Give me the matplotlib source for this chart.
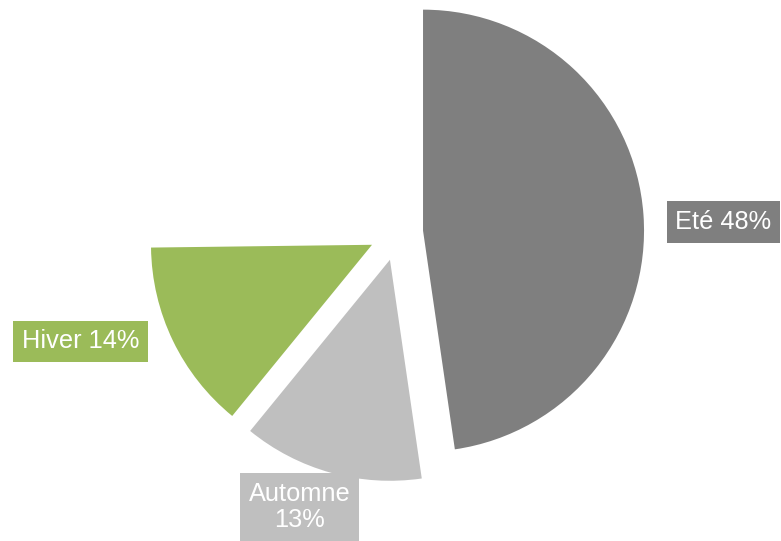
import matplotlib
matplotlib.use("Agg")
import matplotlib.pyplot as plt

# Data (shares; labels show rounded percentages)
categories = ["Eté", "Automne", "Hiver", "Printemps"]
values = [47.7, 13.2, 13.9, 25.2]
show_label = [True, True, True, False]
label_sep = [" ", "\n", " ", " "]

# Styles / layout
colors = ["#7F7F7F", "#BFBFBF", "#9BBB59", "none"]
explode = [25.6, 28.3, 28.3, 0.0]   # in pixels (data units)
W, H = 781, 541
center = (397.5, H - 232.5)
radius = 221
label_pos = [(723.5, H - 222), (299.5, H - 507), (80.5, H - 341.5), None]

plt.rcParams['font.family'] = ['Liberation Sans', 'DejaVu Sans']

fig = plt.figure(figsize=(W / 100, H / 100), dpi=100)
ax = fig.add_axes([0, 0, 1, 1])
wedges, _ = ax.pie(values, colors=colors, explode=explode, startangle=90,
                   counterclock=False, center=center, radius=radius,
                   wedgeprops=dict(linewidth=0))
ax.set_xlim(0, W)
ax.set_ylim(0, H)
ax.set_aspect('equal')
ax.axis('off')

total = sum(values)
for cat, v, sep, pos, col, show in zip(categories, values, label_sep, label_pos,
                                       colors, show_label):
    if not show:
        continue
    txt = f"{cat}{sep}{round(100 * v / total)}%"
    ax.text(pos[0], pos[1], txt, ha='center', va='center', fontsize=18.3,
            color='white', linespacing=1.1,
            bbox=dict(boxstyle='square,pad=0.34', facecolor=col, edgecolor='none'))

fig.savefig("out.png", dpi=100)
